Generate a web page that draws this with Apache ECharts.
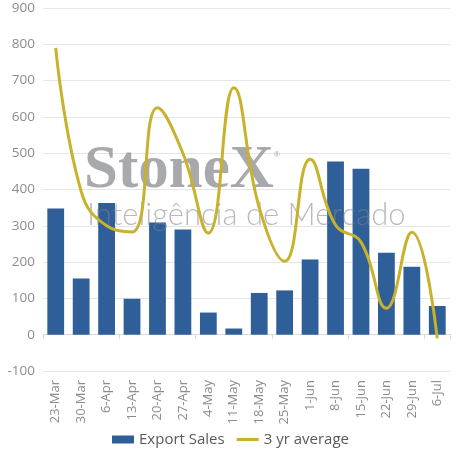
<!DOCTYPE html>
<html lang="en">
<head>
  <meta charset="UTF-8">
  <title>Export Sales</title>
  <script src="https://cdn.jsdelivr.net/npm/echarts@6/dist/echarts.min.js"></script>
  <style>
    html, body { margin: 0; padding: 0; background: #fff; }
    #chart { width: 461px; height: 461px; }
  </style>
</head>
<body>
<div id="chart"></div>
<script>
  // weeks on the x axis
  const weeks = ["23-Mar", "30-Mar", "6-Apr", "13-Apr", "20-Apr", "27-Apr", "4-May", "11-May",
    "18-May", "25-May", "1-Jun", "8-Jun", "15-Jun", "22-Jun", "29-Jun", "6-Jul"];
  // bars
  const exportSales = [348, 155, 363, 99, 309, 290, 61, 17, 115, 122, 207, 477, 457, 226, 187, 79];
  // smoothed line
  const avg3yr = [790, 395, 300, 283, 625, 500, 280, 680, 350, 202, 483, 302, 255, 73, 282, -10];
  const yTicks = { min: -100, max: 900, step: 100 };

  const myChart = echarts.init(document.getElementById("chart"));
  const labelFont = "'Open Sans', 'Noto Sans', sans-serif";

  const option = {
    animation: false,
    grid: { left: 43, right: 11, top: 8, bottom: 90 },
    legend: {
      bottom: 9,
      left: "center",
      itemGap: 12,
      itemWidth: 22,
      itemHeight: 8,
      textStyle: { fontSize: 15, color: "#595959", fontFamily: labelFont },
      data: [
        { name: "Export Sales", icon: "rect" },
        { name: "3 yr average", icon: "path://M0,0H22V3.2H0Z" }
      ]
    },
    xAxis: [
      {
        type: "category",
        data: weeks,
        axisLine: { onZero: true, lineStyle: { color: "#d9d9d9", width: 1 } },
        axisTick: { show: true, length: 4, lineStyle: { color: "#d9d9d9" } },
        axisLabel: { show: false }
      },
      {
        type: "category",
        data: weeks,
        position: "bottom",
        axisLine: { show: false, onZero: false },
        axisTick: { show: false },
        axisLabel: {
          interval: 0,
          rotate: 90,
          margin: 9,
          fontSize: 13,
          color: "#8c8c8c",
          fontFamily: labelFont
        }
      }
    ],
    yAxis: {
      type: "value",
      min: yTicks.min,
      max: yTicks.max,
      interval: yTicks.step,
      axisLine: { show: false },
      axisTick: { show: false },
      splitLine: { lineStyle: { color: "#e6e6e6", width: 1 } },
      axisLabel: { fontSize: 13.5, color: "#8c8c8c", margin: 8, fontFamily: labelFont }
    },
    graphic: [
      {
        type: "text",
        left: 84,
        top: 141,
        z: 5,
        style: {
          text: "StoneX",
          font: "bold 61px 'Liberation Serif', serif",
          fill: "rgba(145,148,153,0.8)"
        }
      },
      {
        type: "text",
        left: 274,
        top: 151,
        z: 5,
        style: { text: "®", font: "8px 'Liberation Sans', sans-serif", fill: "rgba(145,148,153,0.8)" }
      },
      {
        type: "text",
        left: 87,
        top: 199,
        z: 5,
        style: {
          text: "Inteligência de Mercado",
          font: "300 31px Lato, 'Open Sans', sans-serif",
          fill: "rgba(130,130,135,0.55)"
        }
      }
    ],
    series: [
      {
        name: "Export Sales",
        type: "bar",
        barWidth: "66%",
        z: 2,
        itemStyle: { color: "#2f5f98" },
        data: exportSales
      },
      {
        name: "3 yr average",
        type: "line",
        smooth: 0.45,
        symbol: "none",
        z: 10,
        lineStyle: { color: "#c8b22b", width: 3 },
        itemStyle: { color: "#c8b22b" },
        data: avg3yr
      }
    ]
  };
  myChart.setOption(option);
</script>
</body>
</html>
